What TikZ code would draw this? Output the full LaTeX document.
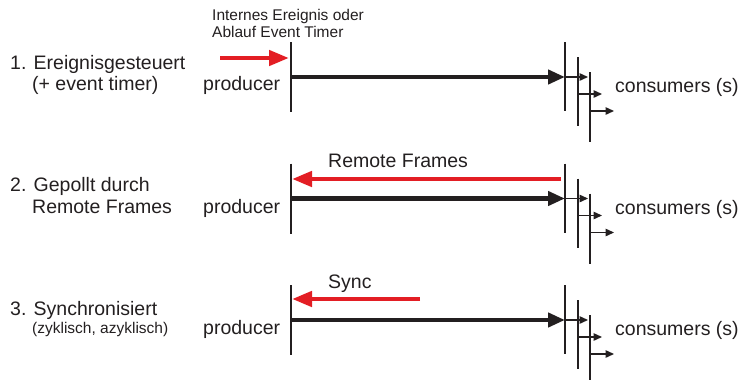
\documentclass[tikz,border=0pt]{standalone}
\usepackage{fontspec}
\setmainfont{Liberation Sans}
\usetikzlibrary{arrows.meta}
\definecolor{ink}{RGB}{35,31,32}
\definecolor{sigred}{RGB}{227,30,36}
\tikzset{
  big/.style={font=\fontsize{19.5}{22}\selectfont, text=ink, inner sep=0pt, anchor=base west},
  small/.style={font=\fontsize{15.5}{18}\selectfont, text=ink, inner sep=0pt, anchor=base west},
  bar/.style={draw=ink, line width=2pt},
  mainarrow/.style={draw=ink, line width=4.5pt, -{Triangle[length=17pt,width=14pt]}},
  redarrow/.style={draw=sigred, line width=4.5pt, -{Triangle[length=20pt,width=15pt]}},
  subarrow/.style={draw=ink, line width=1.4pt, -{Triangle[length=8.5pt,width=7.5pt]}}
}
\begin{document}
\begin{tikzpicture}[x=1pt,y=-1pt]
\useasboundingbox (0,0) rectangle (740,380);
% per-row skeleton
\foreach \r/\A in {1/77,2/198.5,3/320}{
  \coordinate (pt\r) at (291,\A-35);
  \coordinate (pb\r) at (291,\A+35);
  \coordinate (pm\r) at (291,\A);
  \coordinate (aTop\r) at (565,\A-35);
  \coordinate (aBot\r) at (565,\A+34);
  \coordinate (aM\r) at (565,\A);
  \coordinate (bTop\r) at (578,\A-20);
  \coordinate (bBot\r) at (578,\A+49);
  \coordinate (bM\r) at (578,\A+17);
  \coordinate (cTop\r) at (590,\A-5);
  \coordinate (cBot\r) at (590,{min(\A+65,380)});
  \coordinate (cM\r) at (590,\A+34);
  \coordinate (e1\r) at (588,\A);
  \coordinate (e2\r) at (602,\A+17);
  \coordinate (e3\r) at (614,\A+34);
  \draw[bar] (pt\r) -- (pb\r);
  \draw[bar] (aTop\r) -- (aBot\r);
  \draw[bar] (bTop\r) -- (bBot\r);
  \draw[bar] (cTop\r) -- (cBot\r);
  \draw[mainarrow] (pm\r) -- (aM\r);
  \draw[subarrow] (aM\r) -- (e1\r);
  \draw[subarrow] (bM\r) -- (e2\r);
  \draw[subarrow] (cM\r) -- (e3\r);
}
% row labels
\node[big] (l1a) at (10,69) {1. Ereignisgesteuert};
\node[big] (l1b) at (32,90) {(+ event timer)};
\node[big] (l2a) at (10,191) {2. Gepollt durch};
\node[big] (l2b) at (32,213) {Remote Frames};
\node[big] (l3a) at (10,315) {3. Synchronisiert};
\node[small] (l3b) at (32,333) {(zyklisch, azyklisch)};
% producers / consumers
\node[big] (prod1) at (203,90) {producer};
\node[big] (prod2) at (203,213) {producer};
\node[big] (prod3) at (203,334) {producer};
\node[big] (cons1) at (615,92) {consumers (s)};
\node[big] (cons2) at (615,214) {consumers (s)};
\node[big] (cons3) at (615,335) {consumers (s)};
% event labels
\node[small] (ev1) at (212,20) {Internes Ereignis oder};
\node[small] (ev2) at (212,37.5) {Ablauf Event Timer};
\node[big] (rf) at (328,167) {Remote Frames};
\node[big] (sy) at (328,288) {Sync};
% red signals
\coordinate (r1s) at (220,58);  \coordinate (r1e) at (289,58);
\coordinate (r2s) at (561,179); \coordinate (r2e) at (292,179);
\coordinate (r3s) at (420,299); \coordinate (r3e) at (292,299);
\draw[redarrow] (r1s) -- (r1e);
\draw[redarrow] (r2s) -- (r2e);
\draw[redarrow] (r3s) -- (r3e);
\end{tikzpicture}
\end{document}
